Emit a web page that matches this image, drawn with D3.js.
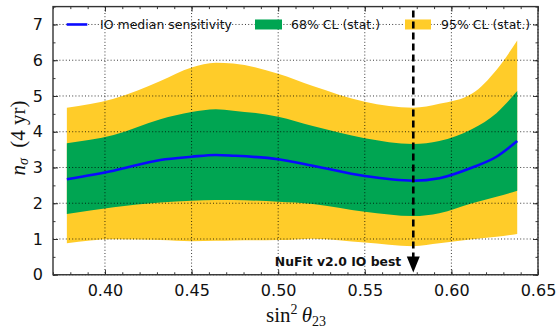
<!DOCTYPE html>
<html><head><meta charset="utf-8">
<script src="https://cdn.jsdelivr.net/npm/d3@7"></script>
<style>body{margin:0;background:#fff}svg{display:block}</style>
</head><body>
<svg id="c" width="560" height="328"></svg>
<script>
// ---- data ----
const xs      = [0.378, 0.405, 0.432, 0.45, 0.464, 0.474, 0.50, 0.52, 0.55, 0.578, 0.593, 0.612, 0.626, 0.638];
const up95    = [4.67, 4.92, 5.42, 5.80, 5.93, 5.91, 5.62, 5.28, 4.84, 4.67, 4.78, 5.07, 5.73, 6.55];
const up68    = [3.68, 3.91, 4.35, 4.55, 4.63, 4.59, 4.42, 4.16, 3.82, 3.66, 3.74, 4.08, 4.52, 5.14];
const median  = [2.67, 2.91, 3.21, 3.30, 3.35, 3.33, 3.23, 3.05, 2.76, 2.63, 2.70, 3.00, 3.30, 3.74];
const lo68    = [1.70, 1.89, 2.02, 2.07, 2.09, 2.09, 2.04, 1.98, 1.76, 1.64, 1.72, 2.00, 2.18, 2.35];
const lo95    = [0.88, 0.99, 0.97, 0.94, 0.95, 0.96, 0.97, 1.01, 0.90, 0.80, 0.88, 0.99, 1.06, 1.14];
const xTicks  = [0.40, 0.45, 0.50, 0.55, 0.60, 0.65];
const yTicks  = [0, 1, 2, 3, 4, 5, 6, 7];
const legendLabels = ["IO median sensitivity", "68% CL (stat.)", "95% CL (stat.)"];
const bestFit = 0.578;
const bestLabel = "NuFit v2.0 IO best";

// ---- layout ----
const L = 53, R = 538, T = 6.6, B = 274.75;
const svg = d3.select("#c");
const x = d3.scaleLinear([0.37, 0.65], [L, R]);
const y = d3.scaleLinear([0, 7.5], [B, T]);
const YEL = "#ffcc29", GRN = "#00a552", BLU = "#0a0aff";

const rows = xs.map((v, i) => ({x: v, u95: up95[i], u68: up68[i], m: median[i], l68: lo68[i], l95: lo95[i]}));
const curve = d3.curveMonotoneX;
const area = (a, b) => d3.area().curve(curve).x(d => x(d.x)).y0(d => y(d[a])).y1(d => y(d[b]));

svg.append("path").datum(rows).attr("d", area("l95", "u95")).attr("fill", YEL);
svg.append("path").datum(rows).attr("d", area("l68", "u68")).attr("fill", GRN);

// grid
const g = svg.append("g").attr("stroke", "#000").attr("stroke-width", 0.9).attr("stroke-dasharray", "1,2.2").attr("opacity", 0.85);
xTicks.forEach(t => g.append("line").attr("x1", x(t)).attr("x2", x(t)).attr("y1", T).attr("y2", B));
yTicks.forEach(t => g.append("line").attr("x1", L).attr("x2", R).attr("y1", y(t)).attr("y2", y(t)));

// median
svg.append("path").datum(rows)
  .attr("d", d3.line().curve(curve).x(d => x(d.x)).y(d => y(d.m)))
  .attr("fill", "none").attr("stroke", BLU).attr("stroke-width", 2.6);

// axes with inward ticks
const fontT = "DejaVu Sans";
function axisSet(axisGen, transform, labels) {
  const ga = svg.append("g").attr("transform", transform);
  ga.call(axisGen);
  ga.select(".domain").remove();
  ga.selectAll("text").attr("font-family", fontT).attr("font-size", 16).attr("fill", "#111");
  if (!labels) ga.selectAll("text").remove();
  ga.selectAll("line").attr("stroke", "#222").attr("stroke-width", 0.9);
  return ga;
}
const xMinor = d3.range(0.37, 0.6501, 0.01);
const yMinor = d3.range(0, 7.51, 0.5);
// bottom
axisSet(d3.axisBottom(x).tickValues(xTicks).tickFormat(d3.format(".2f")).tickSizeInner(-5).tickPadding(10), `translate(0,${B})`, true);
axisSet(d3.axisBottom(x).tickValues(xMinor).tickFormat("").tickSizeInner(-2.5), `translate(0,${B})`);
// top
axisSet(d3.axisTop(x).tickValues(xTicks).tickFormat("").tickSizeInner(-5), `translate(0,${T})`);
axisSet(d3.axisTop(x).tickValues(xMinor).tickFormat("").tickSizeInner(-2.5), `translate(0,${T})`);
// left
axisSet(d3.axisLeft(y).tickValues(yTicks).tickFormat(d3.format("d")).tickSizeInner(-5).tickPadding(10), `translate(${L},0)`, true);
axisSet(d3.axisLeft(y).tickValues(yMinor).tickFormat("").tickSizeInner(-2.5), `translate(${L},0)`);
// right
axisSet(d3.axisRight(y).tickValues(yTicks).tickFormat("").tickSizeInner(-5), `translate(${R},0)`);
axisSet(d3.axisRight(y).tickValues(yMinor).tickFormat("").tickSizeInner(-2.5), `translate(${R},0)`);

// frame
svg.append("rect").attr("x", L).attr("y", T).attr("width", R - L).attr("height", B - T)
  .attr("fill", "none").attr("stroke", "#333").attr("stroke-width", 1.4);

// legend
const ly = y(7);
const lg = svg.append("g").attr("font-family", fontT).attr("font-size", 12.5).attr("fill", "#111");
lg.append("line").attr("x1", 66.7).attr("x2", 87.3).attr("y1", ly).attr("y2", ly).attr("stroke", BLU).attr("stroke-width", 2.6);
lg.append("text").attr("x", 100).attr("y", ly).attr("dy", "0.35em").text(legendLabels[0]);
lg.append("rect").attr("x", 255).attr("y", ly - 5).attr("width", 27).attr("height", 10).attr("fill", GRN);
lg.append("text").attr("x", 291).attr("y", ly).attr("dy", "0.35em").text(legendLabels[1]);
lg.append("rect").attr("x", 405).attr("y", ly - 5).attr("width", 26).attr("height", 10).attr("fill", YEL);
lg.append("text").attr("x", 441).attr("y", ly).attr("dy", "0.35em").text(legendLabels[2]);

// best-fit arrow
const ax = x(bestFit);
svg.append("line").attr("x1", ax).attr("x2", ax).attr("y1", T + 4).attr("y2", 258)
  .attr("stroke", "#000").attr("stroke-width", 2.6).attr("stroke-dasharray", "7,4");
svg.append("path").attr("d", `M${ax - 6.5},256.5 L${ax + 6.5},256.5 L${ax},272.5 Z`).attr("fill", "#000");
svg.append("text").attr("x", ax - 12).attr("y", 262).attr("dy", "0.35em").attr("text-anchor", "end")
  .attr("font-family", fontT).attr("font-weight", "bold").attr("font-size", 12.4).attr("fill", "#111").text(bestLabel);

// axis labels
const serif = "Liberation Serif";
const xl = svg.append("text").attr("x", 296).attr("y", 322).attr("text-anchor", "middle")
  .attr("font-family", serif).attr("font-size", 21).attr("fill", "#111");
xl.append("tspan").text("sin");
xl.append("tspan").attr("font-size", 14).attr("dy", -8).text("2");
xl.append("tspan").attr("dy", 8).text("\u2009");
xl.append("tspan").attr("font-style", "italic").text("θ");
xl.append("tspan").attr("font-size", 14).attr("dy", 4).text("23");

const yl = svg.append("text").attr("transform", "translate(25,138) rotate(-90)").attr("text-anchor", "middle")
  .attr("font-family", serif).attr("font-size", 21).attr("fill", "#111");
yl.append("tspan").attr("font-style", "italic").text("n");
yl.append("tspan").attr("font-style", "italic").attr("font-size", 14).attr("dy", 3).text("σ");
yl.append("tspan").attr("dy", -3).text("\u2002(4 yr)");
</script>
</body></html>
